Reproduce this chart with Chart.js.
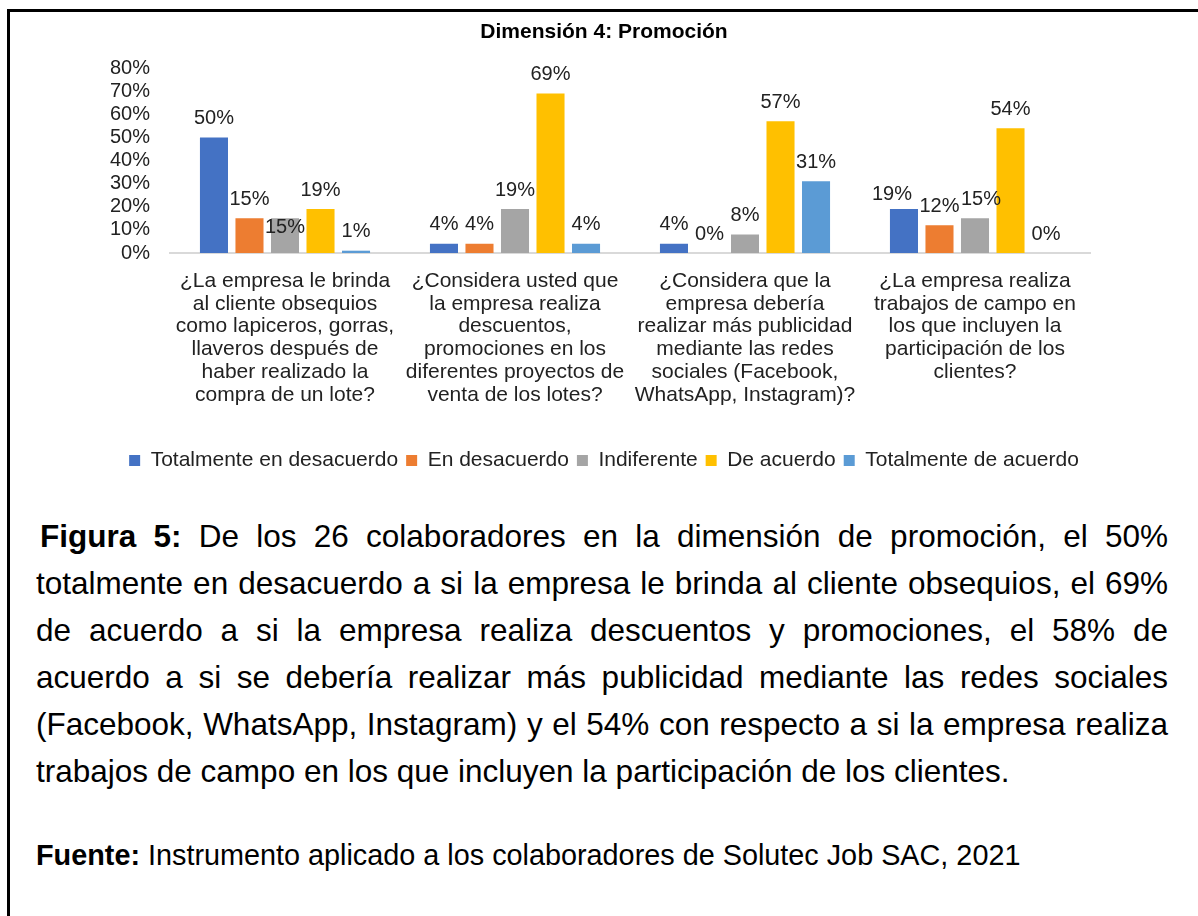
<!DOCTYPE html>
<html>
<head>
<meta charset="utf-8">
<script src="https://cdn.jsdelivr.net/npm/chart.js@4"></script>
<style>
  html, body { margin: 0; padding: 0; background: #fff; }
  body { width: 1198px; height: 916px; overflow: hidden; position: relative; font-family: "Liberation Sans", Arial, sans-serif; }
  #frame { position: absolute; left: 7px; top: 9px; width: 1200px; height: 920px; border: 3px solid #000; }
  #chart-box { position: absolute; left: 10px; top: 12px; width: 1188px; height: 475px; }
  #caption { position: absolute; left: 36px; top: 513px; width: 1132px; font-size: 31.5px; line-height: 47px; color: #000; }
  #caption span { display: block; white-space: nowrap; text-align: justify; text-align-last: justify; }
  #caption span.first { padding-left: 4px; }
  #caption span.last { text-align-last: left; }
  #source { position: absolute; left: 36px; top: 832px; font-size: 28.8px; line-height: 47px; color: #000; white-space: nowrap; }
</style>
</head>
<body>
<div id="frame"></div>
<div id="chart-box"><canvas id="chart"></canvas></div>
<div id="caption">
  <span class="first"><b>Figura 5:</b> De los 26 colaboradores en la dimensión de promoción, el 50%</span>
  <span>totalmente en desacuerdo a si la empresa le brinda al cliente obsequios, el 69%</span>
  <span>de acuerdo a si la empresa realiza descuentos y promociones, el 58% de</span>
  <span>acuerdo a si se debería realizar más publicidad mediante las redes sociales</span>
  <span>(Facebook, WhatsApp, Instagram) y el 54% con respecto a si la empresa realiza</span>
  <span class="last">trabajos de campo en los que incluyen la participación de los clientes.</span>
</div>
<div id="source"><b>Fuente:</b> Instrumento aplicado a los colaboradores de Solutec Job SAC, 2021</div>
<script>
// categorias (preguntas) partidas en lineas como en el original
const categories = [
    ["¿La empresa le brinda", "al cliente obsequios", "como lapiceros, gorras,", "llaveros después de", "haber realizado la", "compra de un lote?"],
    ["¿Considera usted que", "la empresa realiza", "descuentos,", "promociones en los", "diferentes proyectos de", "venta de los lotes?"],
    ["¿Considera que la", "empresa debería", "realizar más publicidad", "mediante las redes", "sociales (Facebook,", "WhatsApp, Instagram)?"],
    ["¿La empresa realiza", "trabajos de campo en", "los que incluyen la", "participación de los", "clientes?"]
];

const seriesNames = ["Totalmente en desacuerdo", "En desacuerdo", "Indiferente", "De acuerdo", "Totalmente de acuerdo"];

// porcentajes
const totalDesacuerdo = [50, 4, 4, 19];
const enDesacuerdo = [15, 4, 0, 12];
const indiferente = [15, 19, 8, 15];
const deAcuerdo = [19, 69, 57, 54];
const totalAcuerdo = [1, 4, 31, 0];

const yTickValues = [0, 10, 20, 30, 40, 50, 60, 70, 80];

const chartTitle = "Dimensión 4: Promoción";

const colors = ["#4472C4", "#ED7D31", "#A5A5A5", "#FFC000", "#5B9BD5"];
const FONT = '"Liberation Sans", Arial, sans-serif';

// titulo centrado en todo el lienzo
const centeredTitle = {
    id: "centeredTitle",
    afterDraw(chart, args, opts) {
        const ctx = chart.ctx;
        ctx.save();
        ctx.font = "bold 21px " + FONT;
        ctx.fillStyle = "#000";
        ctx.textAlign = "center";
        ctx.textBaseline = "middle";
        ctx.fillText(opts.text, chart.width / 2, 20);
        ctx.restore();
    }
};

// etiquetas encima de cada barra
const barLabels = {
    id: "barLabels",
    afterDatasetsDraw(chart, args, opts) {
        const ctx = chart.ctx;
        ctx.save();
        ctx.font = "20px " + FONT;
        ctx.fillStyle = "#222";
        ctx.textAlign = "center";
        ctx.textBaseline = "middle";
        chart.data.datasets.forEach((ds, i) => {
            const meta = chart.getDatasetMeta(i);
            meta.data.forEach((bar, j) => {
                const nudge = opts.nudge[i + "-" + j] || [0, 0];
                ctx.fillText(ds.data[j] + "%", bar.x + nudge[0], bar.y - 19 + nudge[1]);
            });
        });
        ctx.restore();
    }
};

const seriesData = [totalDesacuerdo, enDesacuerdo, indiferente, deAcuerdo, totalAcuerdo];

new Chart(document.getElementById("chart"), {
    type: "bar",
    data: {
        labels: categories,
        datasets: seriesNames.map((name, i) => ({
            label: name,
            data: seriesData[i],
            backgroundColor: colors[i],
            categoryPercentage: 0.772,
            barPercentage: 0.79
        }))
    },
    plugins: [barLabels, centeredTitle],
    options: {
        responsive: true,
        maintainAspectRatio: false,
        animation: false,
        layout: { padding: { left: 0, right: 0, top: 56, bottom: 6 } },
        plugins: {
            title: { display: false },
            centeredTitle: { text: chartTitle },
            legend: {
                position: "bottom",
                labels: {
                    color: "#222",
                    font: { family: FONT, size: 21 },
                    boxWidth: 11,
                    boxHeight: 11,
                    padding: 8
                }
            },
            tooltip: { enabled: false },
            barLabels: { nudge: { "2-0": [0, 28], "0-3": [-12, 4], "2-3": [6, 0] } }
        },
        scales: {
            x: {
                grid: { display: false, drawTicks: false },
                border: { display: true, color: "#D9D9D9", width: 2 },
                ticks: {
                    color: "#222",
                    font: { family: FONT, size: 21, lineHeight: 1.08 },
                    padding: 17,
                    maxRotation: 0,
                    autoSkip: false
                },
                afterFit(scale) { scale.height = 189; }
            },
            y: {
                min: 0,
                max: 80,
                grid: { display: false, drawTicks: false },
                border: { display: false },
                afterBuildTicks(scale) { scale.ticks = yTickValues.map(v => ({ value: v })); },
                ticks: {
                    color: "#222",
                    font: { family: FONT, size: 20 },
                    padding: 20,
                    autoSkip: false,
                    callback: v => v + "%"
                },
                afterFit(scale) { scale.width = 160; }
            },
            // eje vacio a la derecha: deja el hueco del area de trazado de Excel
            yRight: {
                position: "right",
                min: 0,
                max: 80,
                grid: { display: false, drawTicks: false },
                border: { display: false },
                ticks: { display: false },
                afterFit(scale) { scale.width = 108; }
            }
        }
    }
});
</script>
</body>
</html>
